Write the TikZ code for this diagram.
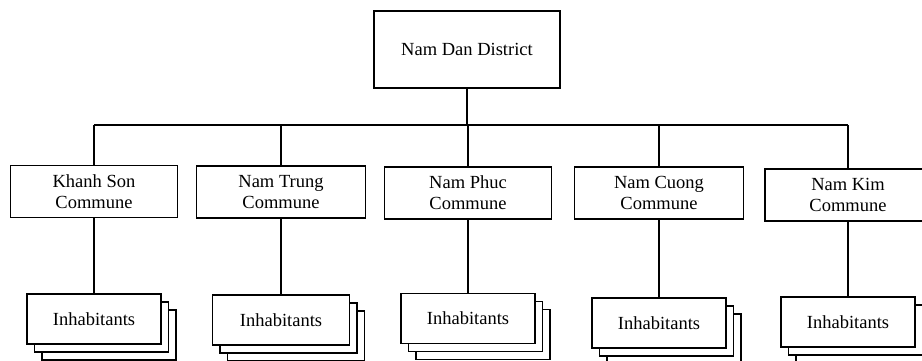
\documentclass[tikz,border=0pt]{standalone}
\usepackage{fontspec}
\setmainfont{Liberation Serif}
\usetikzlibrary{shadows}
\begin{document}
\begin{tikzpicture}[x=1pt,y=-1pt,
  line width=1.3pt,
  every node/.style={font=\fontsize{18.5}{21}\selectfont},
  unit/.style={draw, fill=white, rectangle, inner sep=0pt, align=center},
  district/.style={unit, minimum width=186pt, minimum height=77pt},
  commune/.style={unit, minimum height=52pt},
  people/.style={unit, minimum width=134pt, minimum height=50pt,
    double copy shadow={shadow xshift=7.5pt, shadow yshift=-8pt, draw, fill=white}}]
\clip (0,0) rectangle (922,361);
\fill[white] (0,0) rectangle (922,361);

% district
\node[district] (nd) at (467,49.5) {Nam Dan District};

% communes
\node[commune, minimum width=167pt] (ks) at (94,191.5) {Khanh Son\\Commune};
\node[commune, minimum width=169pt] (nt) at (281,192) {Nam Trung\\Commune};
\node[commune, minimum width=167pt] (np) at (468,193) {Nam Phuc\\Commune};
\node[commune, minimum width=169pt] (nc) at (659,193) {Nam Cuong\\Commune};
\node[commune, minimum width=166pt] (nk) at (848,195) {Nam Kim\\Commune};

% inhabitants of each commune
\node[people] (iks) at (94,319) {Inhabitants};
\node[people, minimum width=137pt] (int) at (281,320) {Inhabitants};
\node[people] (inp) at (468,318.5) {Inhabitants};
\node[people] (inc) at (659,323) {Inhabitants};
\node[people] (ink) at (848,322) {Inhabitants};

% bus line joining the district to the communes
\coordinate (bus) at (467,125);
\draw (nd.south) -- (bus);
\draw (ks.north |- bus) -- (nk.north |- bus);
\foreach \c in {ks,nt,np,nc,nk}
  \draw (\c.north) -- (\c.north |- bus);

% communes down to their inhabitants
\draw (ks.south) -- (ks.south |- iks.north);
\draw (nt.south) -- (nt.south |- int.north);
\draw (np.south) -- (np.south |- inp.north);
\draw (nc.south) -- (nc.south |- inc.north);
\draw (nk.south) -- (nk.south |- ink.north);
\end{tikzpicture}
\end{document}
